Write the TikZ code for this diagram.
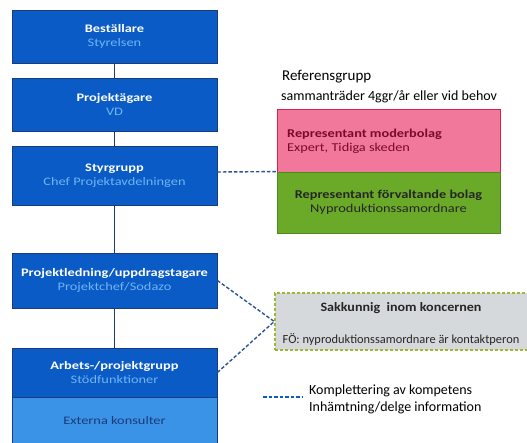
\documentclass[tikz,border=0pt]{standalone}
\usepackage{fontspec}
\setmainfont{Carlito}
\newfontfamily\wideA[FakeStretch=1.25]{Carlito}
\newfontfamily\wideB[FakeStretch=1.19]{Carlito}
\newfontfamily\wideC[FakeStretch=1.2]{Carlito}
\newfontfamily\wideD[FakeStretch=1.1]{Carlito}
\definecolor{boxblue}{HTML}{0A5BC6}
\definecolor{navy}{HTML}{1A3C78}
\definecolor{subblue}{HTML}{6FB4F5}
\definecolor{lightblue}{HTML}{3A93E6}
\definecolor{pinkfill}{HTML}{F2789B}
\definecolor{pinkborder}{HTML}{D8204E}
\definecolor{pinktext}{HTML}{7A0A28}
\definecolor{greenfill}{HTML}{6AAA28}
\definecolor{greenborder}{HTML}{4E8A1A}
\definecolor{grayfill}{HTML}{D6D9DC}
\definecolor{olive}{HTML}{9DB833}
\definecolor{dashblue}{HTML}{2B5597}
\newcommand{\bt}[1]{\textcolor{white}{\wideA\bfseries\fontsize{11.5}{13}\selectfont #1}}
\newcommand{\bs}[1]{\textcolor{subblue}{\wideA\fontsize{11.5}{13}\selectfont #1}}
\begin{document}
\begin{tikzpicture}[x=1pt,y=-1pt,
  orgbox/.style={draw=navy, line width=0.8pt, fill=boxblue, minimum width=205pt, align=center, inner sep=0pt},
  conn/.style={draw=navy, line width=1.2pt},
  dashconn/.style={draw=dashblue, line width=1.4pt, dash pattern=on 3.5pt off 2pt}
]
\useasboundingbox (0,0) rectangle (527,443);

\node[orgbox, minimum height=53pt] (b1) at (114.5,36.5) {\bt{Beställare}\\[2pt]\bs{Styrelsen}};
\node[orgbox, minimum height=53pt] (b2) at (114.5,104.5) {\bt{Projektägare}\\[2pt]\bs{VD}};
\node[orgbox, minimum height=59pt] (b3) at (114.5,175.5) {\bt{Styrgrupp}\\[2pt]\bs{Chef Projektavdelningen}};
\node[orgbox, minimum height=55pt] (b4) at (114.5,280.5) {\bt{Projektledning/uppdragstagare}\\[2pt]\bs{Projektchef/Sodazo}};
\node[orgbox, minimum height=49pt] (b5) at (114.5,372.5) {\bt{Arbets-/projektgrupp}\\[2pt]\bs{Stödfunktioner}};
\node[draw=navy, line width=0.8pt, fill=lightblue, minimum width=205pt, minimum height=50pt, anchor=north, inner sep=0pt, text=navy] (b6) at (b5.south) {\raisebox{4pt}{\wideA\fontsize{11.5}{13}\selectfont Externa konsulter}};

\draw[conn] (b1.south) -- (b2.north);
\draw[conn] (b2.south) -- (b3.north);
\draw[conn] (b3.south) -- (b4.north);
\draw[conn] (b4.south) -- (b5.north);

% Referensgrupp
\node[anchor=west, inner sep=0pt, font=\fontsize{15}{16}\selectfont] (rt) at (282,77) {Referensgrupp};
\node[anchor=west, inner sep=0pt, font=\fontsize{14}{15}\selectfont] (rs) at (281,97) {sammanträder 4ggr/år eller vid behov};

\node[draw=pinkborder, line width=0.8pt, fill=pinkfill, minimum width=223pt, minimum height=63pt, inner sep=0pt] (pink) at (388.5,140.5) {};
\node[anchor=west, align=left, inner sep=0pt, text=pinktext] (pt) at (287,141) {{\wideB\bfseries\fontsize{12}{14}\selectfont Representant moderbolag}\\[2pt]{\wideB\fontsize{12}{14}\selectfont Expert, Tidiga skeden}};
\node[draw=greenborder, line width=0.8pt, fill=greenfill, minimum width=223pt, minimum height=61pt, inner sep=0pt, align=center, text=black!85] (green) at (388.5,202.5) {{\wideB\bfseries\fontsize{12}{14}\selectfont Representant förvaltande bolag}\\[2pt]{\wideC\fontsize{12}{14}\selectfont Nyproduktionssamordnare}};

% Sakkunnig
\node[draw=olive, line width=1.6pt, dash pattern=on 3pt off 2pt, fill=grayfill, minimum width=254pt, minimum height=57pt, inner sep=0pt] (sak) at (402,321.5) {};
\node[inner sep=0pt, font=\wideD\bfseries\fontsize{12.8}{14}\selectfont, text=black!85] (sak1) at (401,308) {Sakkunnig\ \ inom koncernen};
\node[inner sep=0pt, font=\fontsize{12.4}{14}\selectfont, text=black!85] (sak2) at (401,340) {FÖ: nyproduktionssamordnare är kontaktperon};

% dashed connectors
\draw[dashconn] (b3.east |- 0,172) -- (green.north west);
\draw[dashconn] (b4.east) -- (sak.west);
\draw[dashconn] (b5.east) -- (sak.west);

% legend
\coordinate (l1) at (263,397);
\coordinate (l2) at (303,397);
\draw[dashconn, draw=boxblue] (l1) -- (l2);
\node[anchor=west, align=left, inner sep=0pt, font=\fontsize{14}{17}\selectfont] (lt) at (309,399.5) {Komplettering av kompetens\\Inhämtning/delge information};
\end{tikzpicture}
\end{document}
